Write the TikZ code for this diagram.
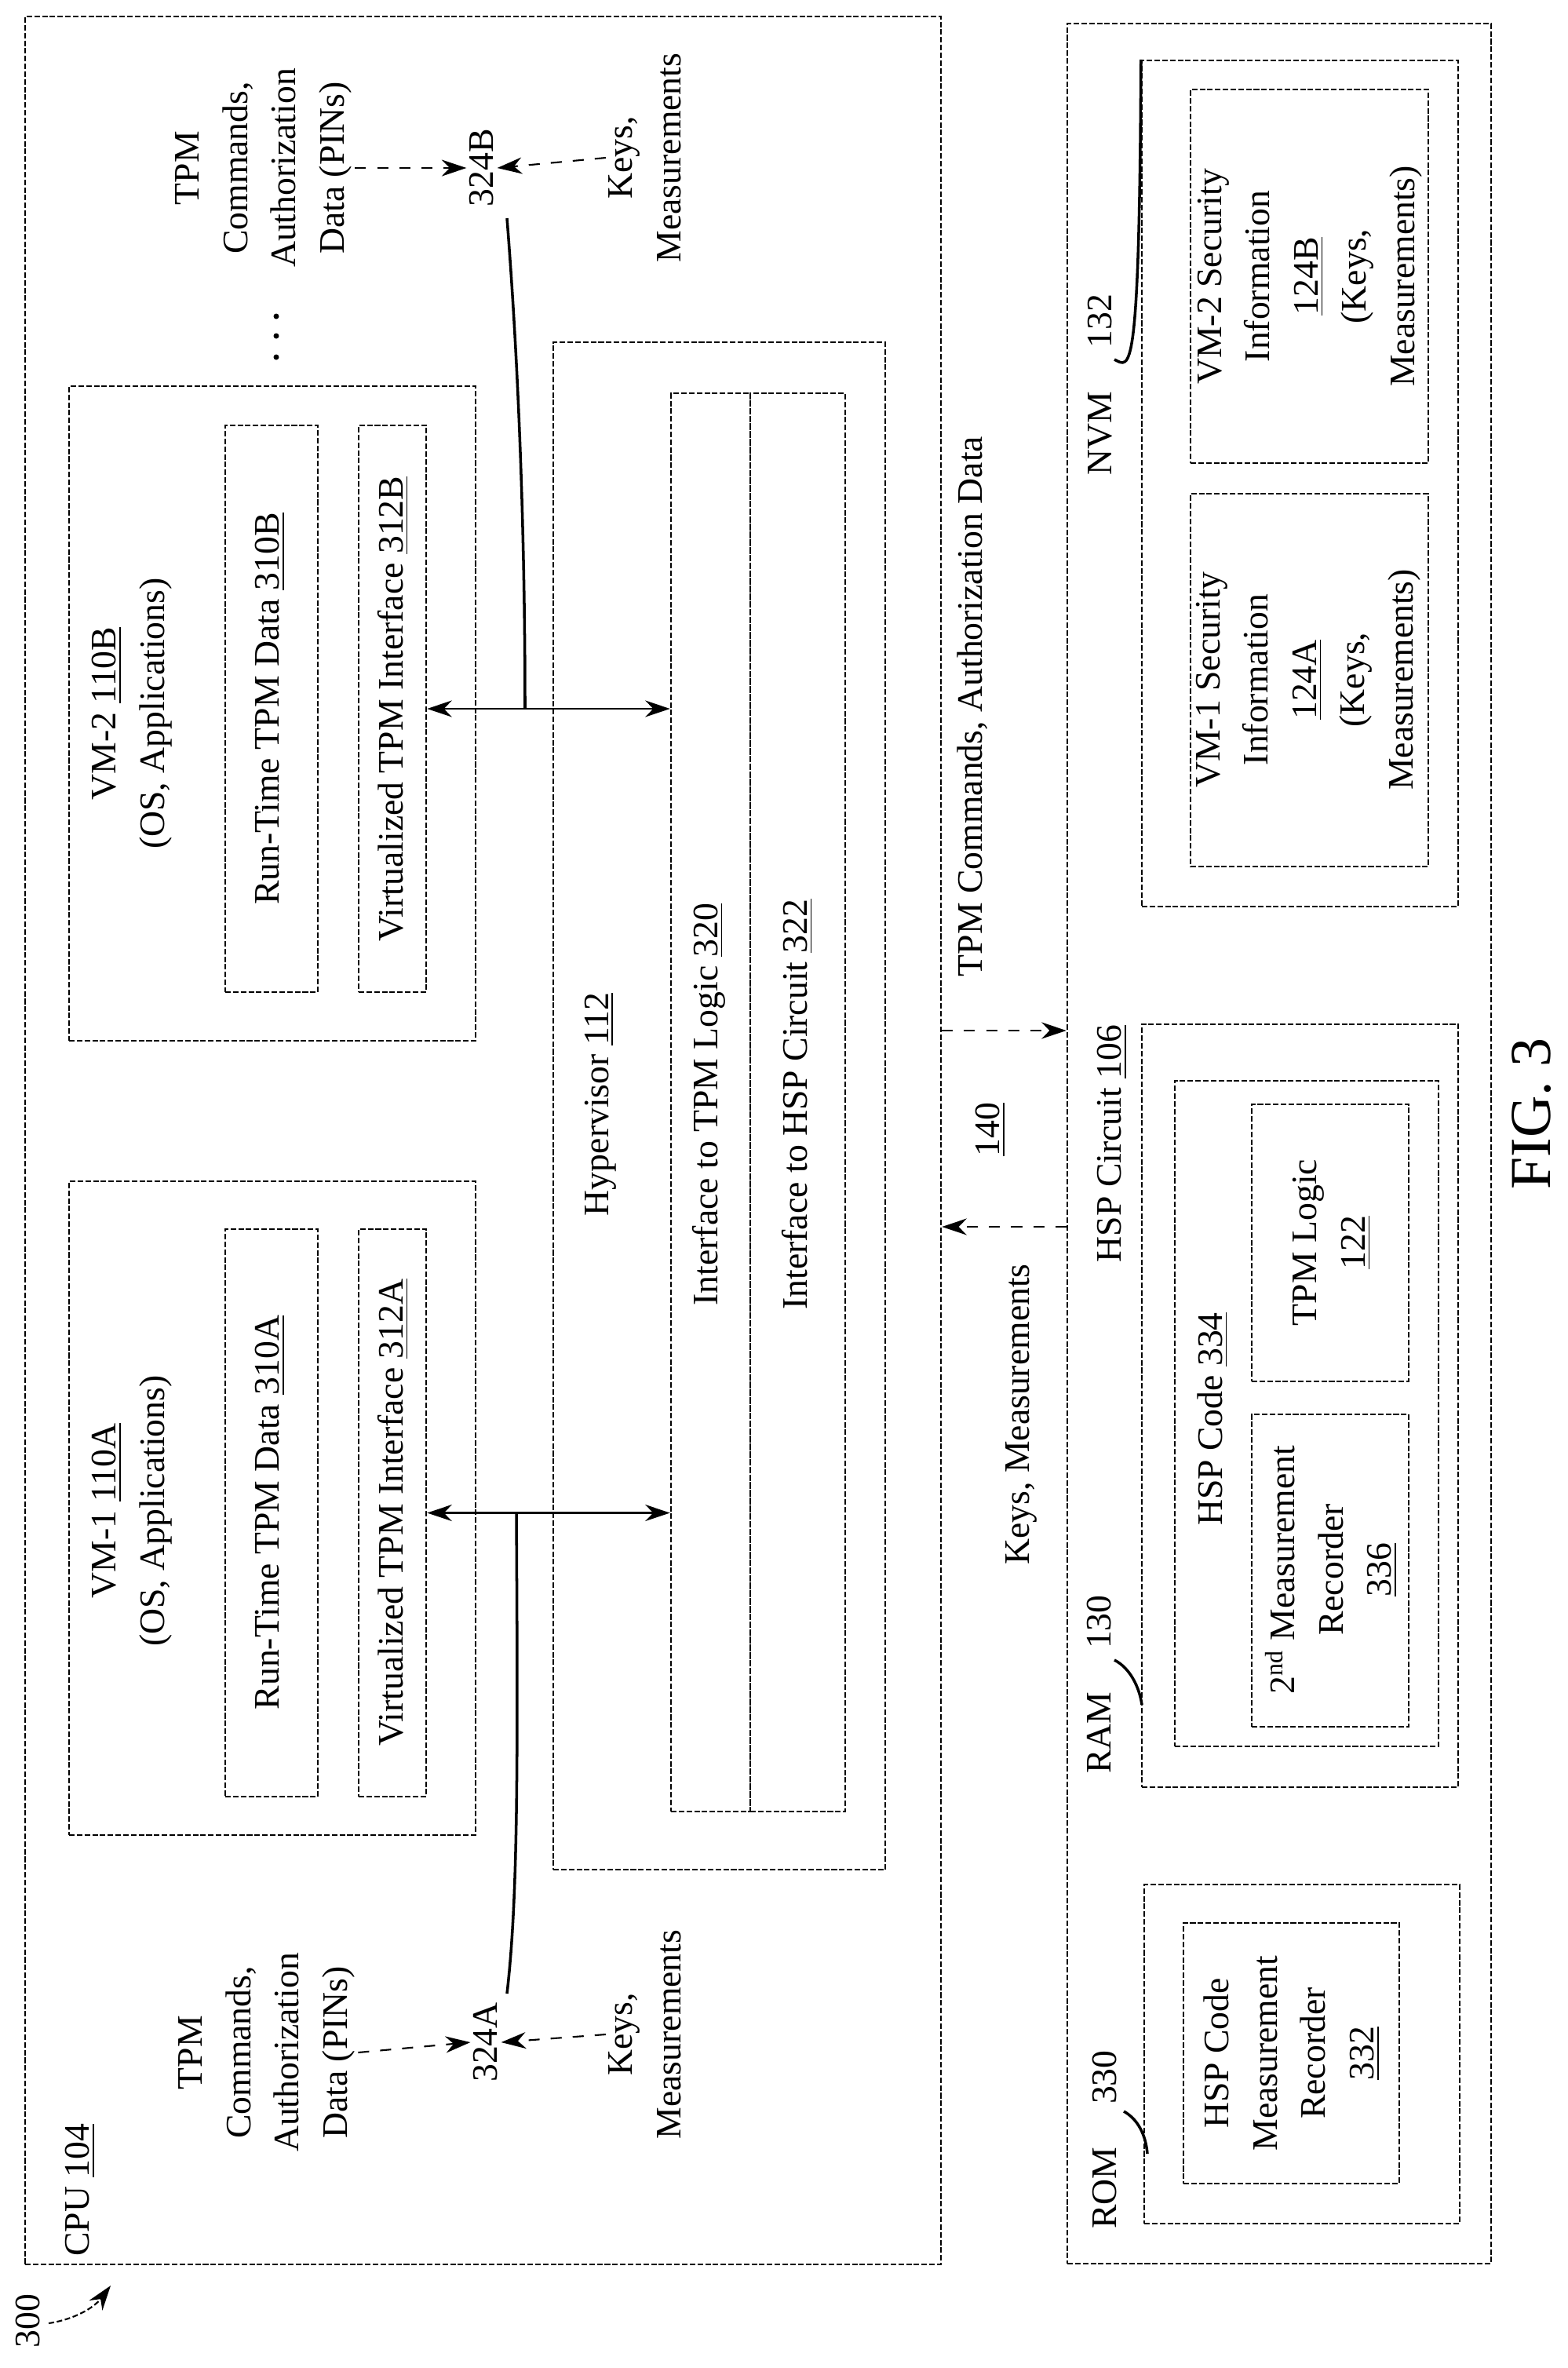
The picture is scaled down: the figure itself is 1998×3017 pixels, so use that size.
\documentclass[tikz,border=0pt]{standalone}
\usepackage{fontspec}
\setmainfont{Liberation Serif}
\usetikzlibrary{arrows.meta,fit}
\begin{document}
\begin{tikzpicture}[x=0.01cm,y=-0.01cm,
  font=\fontsize{13}{17.5}\selectfont,
  box/.style={draw, dash pattern=on 2pt off 0.8pt, line width=0.7pt, inner sep=0pt},
  lbl/.style={rotate=90, align=center, inner sep=1pt},
  arr/.style={-{Stealth[length=9pt,width=6pt]}, line width=0.6pt},
  darr/.style={arr, dash pattern=on 4pt off 4pt},
  dbl/.style={{Stealth[length=9pt,width=6pt]}-{Stealth[length=9pt,width=6pt]}, line width=0.6pt},
  lead/.style={line width=1pt}]
\useasboundingbox (0,0) rectangle (1998,3017);

% boxes
\node[box, fit={(32,21)(1199,2885)}] (cpu) {};
\node[box, fit={(88,492)(606,1326)}] (vm2) {};
\node[box, fit={(287,542)(405,1264)}] (rt2) {};
\node[box, fit={(457,542)(543,1264)}] (vi2) {};
\node[box, fit={(88,1505)(606,2338)}] (vm1) {};
\node[box, fit={(287,1566)(405,2289)}] (rt1) {};
\node[box, fit={(457,1566)(543,2289)}] (vi1) {};
\node[box, fit={(705,436)(1128,2382)}] (hyp) {};
\node[box, fit={(855,501)(956,2308)}] (ifT) {};
\node[box, fit={(956,501)(1077,2308)}] (ifH) {};
\node[box, fit={(1360,30)(1900,2884)}] (rbox) {};
\node[box, fit={(1455,77)(1858,1155)}] (nvm) {};
\node[box, fit={(1517,114)(1820,590)}] (vm2s) {};
\node[box, fit={(1517,629)(1820,1104)}] (vm1s) {};
\node[box, fit={(1455,1305)(1858,2277)}] (ram) {};
\node[box, fit={(1497,1377)(1833,2225)}] (hspc) {};
\node[box, fit={(1595,1407)(1795,1760)}] (tpml) {};
\node[box, fit={(1595,1802)(1795,2200)}] (mr2) {};
\node[box, fit={(1458,2401)(1860,2833)}] (rom) {};
\node[box, fit={(1508,2450)(1783,2782)}] (romi) {};

% texts in boxes
\node[lbl] (tcpu) at (102,2790) {CPU \underline{104}};
\node[lbl] (t300) at (36,2957) {300};
\node[lbl] (tvm2) at (168,909) {VM-2 \underline{110B}\\(OS, Applications)};
\node[lbl] (trt2) at (344,903) {Run-Time TPM Data \underline{310B}};
\node[lbl] (tvi2) at (501,903) {Virtualized TPM Interface \underline{312B}};
\node[lbl] (tvm1) at (168,1925) {VM-1 \underline{110A}\\(OS, Applications)};
\node[lbl] (trt1) at (344,1927) {Run-Time TPM Data \underline{310A}};
\node[lbl] (tvi1) at (501,1927) {Virtualized TPM Interface \underline{312A}};
\node[lbl] (thyp) at (765,1407) {Hypervisor \underline{112}};
\node[lbl] (tifT) at (903,1407) {Interface to TPM Logic \underline{320}};
\node[lbl] (tifH) at (1016,1407) {Interface to HSP Circuit \underline{322}};

\node[lbl] (ttpmB) at (336,214) {TPM\\Commands,\\Authorization\\Data (PINs)};
\node[lbl] (l324B) at (614,214) {324B};
\node[lbl] (tkeysB) at (822,201) {Keys,\\Measurements};
\node[lbl] (ttpmA) at (340,2615) {TPM\\Commands,\\Authorization\\Data (PINs)};
\node[lbl] (l324A) at (619,2602) {324A};
\node[lbl] (tkeysA) at (822,2592) {Keys,\\Measurements};

\node[lbl] (tcmd) at (1239,900) {TPM Commands, Authorization Data};
\node[lbl] (t140) at (1262,1439) {\underline{140}};
\node[lbl] (tkm) at (1301,1802) {Keys, Measurements};

\node[lbl] (thsp) at (1417,1457) {HSP Circuit \underline{106}};
\node[lbl] (tram) at (1401,2146) {RAM\hspace{1.2em}130};
\node[lbl] (tnvm) at (1402,490) {NVM\hspace{1.2em}132};
\node[lbl] (trom) at (1408,2726) {ROM\hspace{1.2em}330};
\node[lbl] (tvm1s) at (1667,866) {VM-1 Security\\Information\\\underline{124A}\\(Keys,\\Measurements)};
\node[lbl] (tvm2s) at (1669,352) {VM-2 Security\\Information\\\underline{124B}\\(Keys,\\Measurements)};
\node[lbl] (thspc) at (1545,1808) {HSP Code \underline{334}};
\node[lbl] (ttpml) at (1697,1583) {TPM Logic\\\underline{122}};
\node[lbl] (tmr2) at (1696,2000) {2\textsuperscript{nd} Measurement\\Recorder\\\underline{336}};
\node[lbl] (tromi) at (1646,2616) {HSP Code\\Measurement\\Recorder\\\underline{332}};
\node[lbl, font=\fontsize{21}{24}\selectfont] (tfig) at (1952,1419) {FIG. 3};

% ellipsis
\foreach \yy in {403,428,455} \fill (352,\yy) circle (3.5);

% VM to hypervisor arrows
\draw[dbl] (vi2.east) -- (vi2.east -| ifT.west);
\draw[dbl] (vi1.east) -- (vi1.east -| ifT.west);

% 324 leaders
\coordinate (jB) at (669,903);
\coordinate (eB) at (646,278);
\draw[lead] (eB) .. controls (662,480) and (669,700) .. (jB);
\coordinate (jA) at (658,1927);
\coordinate (eA) at (646,2540);
\draw[lead] (jA) .. controls (660,2250) and (660,2420) .. (eA);

% dashed label arrows
\draw[darr] (ttpmB.south) -- (l324B.north);
\draw[darr] (tkeysB.north) -- (l324B.south);
\draw[darr] (ttpmA.south) -- (l324A.north);
\draw[darr] (tkeysA.north) -- (l324A.south);

% bus 140
\coordinate (r1) at (0,1313);
\coordinate (r2) at (0,1563);
\draw[darr] (cpu.east |- r1) -- (rbox.west |- r1);
\draw[darr] (rbox.west |- r2) -- (cpu.east |- r2);

% memory leaders
\coordinate (nvA) at (1420,458);
\draw[lead] (nvA) .. controls (1440,468) and (1452,490) .. (nvm.north west);
\coordinate (raA) at (1420,2115);
\draw[lead] (raA) .. controls (1440,2125) and (1452,2150) .. (1455,2172);
\coordinate (roA) at (1432,2690);
\draw[lead] (roA) .. controls (1450,2700) and (1460,2720) .. (1462,2744);

% 300 arrow
\coordinate (s300) at (62,2960);
\coordinate (e300) at (141,2912);
\draw[arr, dash pattern=on 2pt off 1pt] (s300) .. controls (95,2955) and (120,2940) .. (e300);
\end{tikzpicture}
\end{document}
